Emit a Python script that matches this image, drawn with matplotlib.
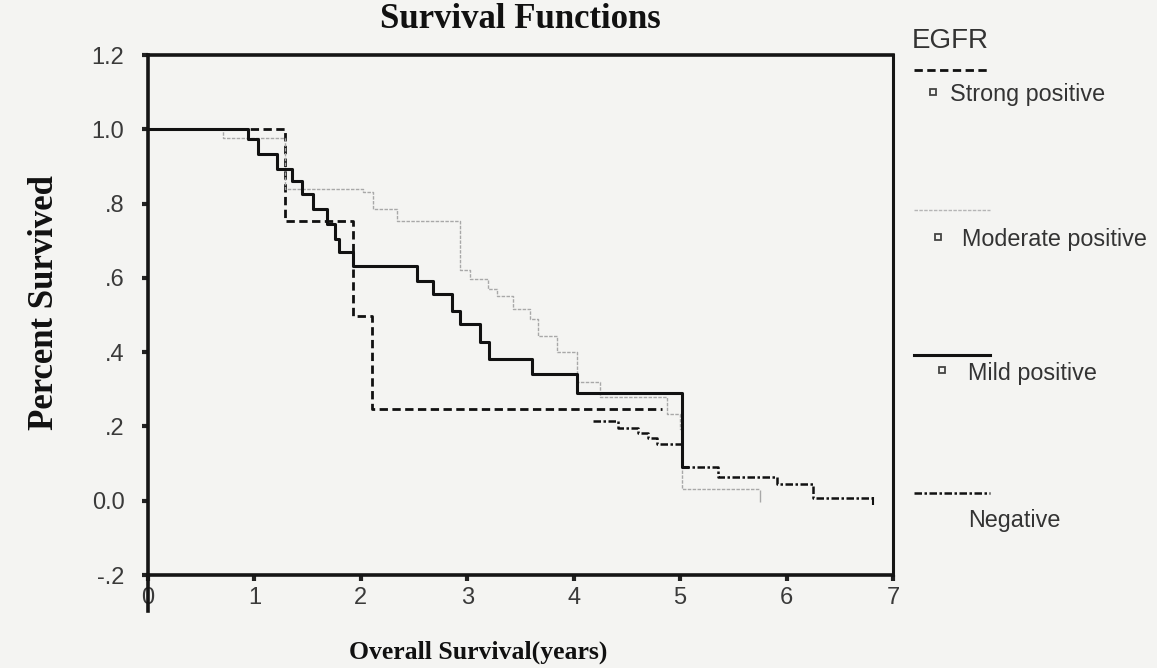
import matplotlib
matplotlib.use("Agg")
import matplotlib.pyplot as plt
from matplotlib.lines import Line2D

# ---- data ----
mild_t = [0, 0.94, 1.03, 1.21, 1.35, 1.45, 1.55, 1.68, 1.76, 1.79, 1.93, 2.53, 2.68, 2.86,
          2.93, 3.12, 3.20, 3.61, 4.03, 5.02, 5.06]
mild_s = [1.0, 0.973, 0.933, 0.892, 0.860, 0.825, 0.785, 0.745, 0.704, 0.669, 0.632, 0.591,
          0.556, 0.511, 0.476, 0.427, 0.382, 0.341, 0.290, 0.091, 0.091]

strong_t = [0, 1.29, 1.93, 2.10, 4.83]
strong_s = [1.0, 0.753, 0.497, 0.247, 0.247]

moderate_t = [0, 0.70, 1.29, 2.02, 2.11, 2.34, 2.93, 3.03, 3.19, 3.28, 3.43, 3.59, 3.66,
              3.84, 4.03, 4.25, 4.88, 5.00, 5.02, 5.75]
moderate_s = [1.0, 0.976, 0.839, 0.831, 0.785, 0.753, 0.621, 0.597, 0.570, 0.551, 0.516,
              0.489, 0.444, 0.401, 0.320, 0.280, 0.234, 0.194, 0.032, 0.032]

negative_t = [4.18, 4.42, 4.60, 4.70, 4.78, 5.02, 5.36, 5.91, 6.25, 6.81]
negative_s = [0.215, 0.196, 0.183, 0.169, 0.153, 0.091, 0.065, 0.045, 0.008, 0.008]

x_ticks = [0, 1, 2, 3, 4, 5, 6, 7]
x_labels = ["0", "1", "2", "3", "4", "5", "6", "7"]
y_ticks = [-0.2, 0.0, 0.2, 0.4, 0.6, 0.8, 1.0, 1.2]
y_labels = ["-.2", "0.0", ".2", ".4", ".6", ".8", "1.0", "1.2"]

legend_title = "EGFR"
group_names = ["Strong positive", "Moderate positive", "Mild positive", "Negative"]

W, H = 1157, 668
bg = "#f4f4f2"
fig = plt.figure(figsize=(W / 100, H / 100), dpi=100, facecolor=bg)
ax = fig.add_axes([148 / W, 1 - 575 / H, (893 - 148) / W, (575 - 55) / H])
ax.set_facecolor(bg)

strong_style = dict(color="#111111", lw=2.0, linestyle=(0, (3.0, 1.6)))
moderate_style = dict(color="#a8a8a8", lw=1.0, linestyle=(0, (2.5, 1.0)))
mild_style = dict(color="#111111", lw=2.2, linestyle="-")
negative_style = dict(color="#111111", lw=1.8, linestyle=(0, (3.0, 1.0, 1.0, 1.0)))

ax.step(strong_t, strong_s, where="post", **strong_style)
ax.step(moderate_t, moderate_s, where="post", **moderate_style)
ax.step(mild_t, mild_s, where="post", **mild_style)
ax.step(negative_t, negative_s, where="post", **negative_style)

# censor ticks at ends of curves
ax.plot([moderate_t[-1]], [moderate_s[-1] - 0.02], marker="|", ms=8, color="#a8a8a8", mew=1.0)
ax.plot([negative_t[-1]], [negative_s[-1] - 0.01], marker="|", ms=6, color="#111111", mew=1.5)

ax.set_xlim(0, 7)
ax.set_ylim(-0.2, 1.2)
ax.set_xticks(x_ticks)
ax.set_xticklabels(x_labels)
ax.set_yticks(y_ticks)
ax.set_yticklabels(y_labels)

for lab in ax.get_xticklabels() + ax.get_yticklabels():
    lab.set_fontfamily("Liberation Sans")
    lab.set_fontsize(17)
    lab.set_color("#3a3a3a")
ax.tick_params(axis="y", direction="out", length=4, width=3, pad=13, color="#222222")
ax.tick_params(axis="x", direction="out", length=4, width=3, pad=5, color="#222222")

for side, lw in [("left", 2.6), ("bottom", 2.6), ("top", 2.6), ("right", 2.2)]:
    ax.spines[side].set_linewidth(lw)
    ax.spines[side].set_color("#151515")
# left axis line runs below the bottom of the frame, as in the reference
ax.plot([0, 0], [-0.07, 0.0], transform=ax.transAxes, clip_on=False,
        color="#151515", lw=2.6)

fig.text(520 / W, 1 - 20 / H, "Survival Functions", ha="center", va="center",
         family="Liberation Serif", weight="bold", fontsize=25, color="#111111")
fig.text(45 / W, 1 - 303 / H, "Percent Survived", ha="center", va="center", rotation=90,
         family="Liberation Serif", weight="bold", fontsize=25, color="#111111")
fig.text(478 / W, 1 - 652 / H, "Overall Survival(years)", ha="center", va="center",
         family="Liberation Serif", weight="bold", fontsize=18.5, color="#111111")

# ---- legend drawn at the right ----
def fx(px):
    return px / W

def fy(py):
    return 1 - py / H

leg_font = dict(family="Liberation Sans", fontsize=16.8, color="#333333", va="center", ha="left")
fig.text(fx(912), fy(41), legend_title, family="Liberation Sans", fontsize=20,
         color="#333333", va="center", ha="left")

styles = [strong_style, dict(moderate_style, color="#b5b5b5"), mild_style, negative_style]
line_y = [70, 210, 355, 493]
text_y = [95, 240, 373, 520]
text_x = [950, 962, 968, 968]
mark_x = [933, 938, 942, None]
for i, name in enumerate(group_names):
    fig.add_artist(Line2D([fx(914), fx(990)], [fy(line_y[i]), fy(line_y[i])], **styles[i]))
    if mark_x[i] is not None:
        fig.add_artist(Line2D([fx(mark_x[i])], [fy(text_y[i] - 3)], marker="s", ms=5,
                              mfc="none", mec="#444444", mew=1.3, linestyle="none"))
    fig.text(fx(text_x[i]), fy(text_y[i]), name, **leg_font)

fig.savefig("out.png", dpi=100, facecolor=bg)
